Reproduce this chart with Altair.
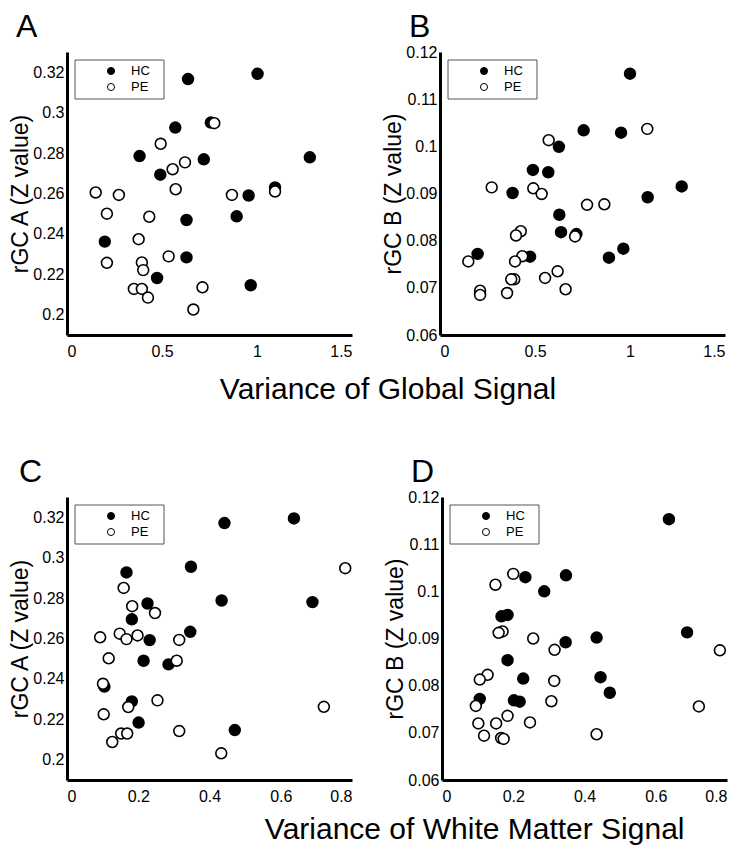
import altair as alt
import pandas as pd

GROUPS = ["HC", "PE"]

# Panel A: variance of global signal vs rGC A
A_HC_X = [0.637, 0.570, 0.757, 0.382, 0.720, 0.491, 0.956, 0.893, 0.629, 0.199, 0.629, 0.474, 0.967, 1.003, 1.278, 1.095]
A_HC_Y = [0.3166, 0.2926, 0.2951, 0.2785, 0.2769, 0.2693, 0.2590, 0.2487, 0.2469, 0.2362, 0.2284, 0.2182, 0.2146, 0.3192, 0.2779, 0.2630]
A_PE_X = [0.775, 0.493, 0.621, 0.556, 0.572, 0.151, 0.273, 0.868, 0.210, 0.433, 0.377, 0.210, 0.394, 0.401, 0.535, 0.352, 0.394, 0.426, 0.713, 0.665, 1.095]
A_PE_Y = [0.2948, 0.2846, 0.2754, 0.2720, 0.2621, 0.2605, 0.2593, 0.2593, 0.2500, 0.2485, 0.2374, 0.2257, 0.2259, 0.2221, 0.2289, 0.2128, 0.2128, 0.2085, 0.2136, 0.2026, 0.2610]

# Panel B: variance of global signal vs rGC B
B_HC_X = [0.756, 0.953, 0.626, 0.489, 0.570, 0.382, 0.628, 0.637, 0.718, 0.198, 0.474, 0.889, 0.965, 1.000, 1.272, 1.093]
B_HC_Y = [0.1034, 0.1029, 0.0999, 0.0950, 0.0945, 0.0901, 0.0855, 0.0818, 0.0814, 0.0772, 0.0766, 0.0764, 0.0783, 0.1154, 0.0915, 0.0892]
B_PE_X = [0.572, 0.272, 0.491, 0.535, 0.774, 0.865, 0.425, 0.400, 0.711, 0.433, 0.149, 0.395, 0.619, 0.553, 0.391, 0.375, 0.211, 0.211, 0.353, 0.661, 1.091]
B_PE_Y = [0.1013, 0.0913, 0.0911, 0.0899, 0.0876, 0.0877, 0.0820, 0.0811, 0.0809, 0.0767, 0.0756, 0.0756, 0.0735, 0.0721, 0.0718, 0.0718, 0.0694, 0.0685, 0.0689, 0.0697, 0.1037]

# Panel C: variance of white matter signal vs rGC A
C_HC_X = [0.442, 0.348, 0.167, 0.434, 0.226, 0.182, 0.346, 0.232, 0.215, 0.285, 0.182, 0.201, 0.471, 0.105, 0.637, 0.689]
C_HC_Y = [0.3171, 0.2955, 0.2927, 0.2788, 0.2773, 0.2695, 0.2633, 0.2592, 0.2490, 0.2472, 0.2289, 0.2184, 0.2147, 0.2362, 0.3194, 0.2780]
C_PE_X = [0.159, 0.183, 0.247, 0.093, 0.148, 0.167, 0.198, 0.315, 0.117, 0.308, 0.101, 0.254, 0.172, 0.103, 0.152, 0.169, 0.127, 0.315, 0.433, 0.781, 0.721]
C_PE_Y = [0.2850, 0.2760, 0.2726, 0.2606, 0.2624, 0.2597, 0.2615, 0.2593, 0.2502, 0.2490, 0.2376, 0.2294, 0.2261, 0.2225, 0.2130, 0.2130, 0.2088, 0.2142, 0.2032, 0.2948, 0.2262]

# Panel D: variance of white matter signal vs rGC B
D_HC_X = [0.348, 0.234, 0.287, 0.167, 0.184, 0.434, 0.347, 0.184, 0.228, 0.445, 0.471, 0.106, 0.202, 0.218, 0.637, 0.688]
D_HC_Y = [0.1034, 0.1030, 0.1000, 0.0947, 0.0950, 0.0902, 0.0892, 0.0854, 0.0815, 0.0818, 0.0785, 0.0772, 0.0769, 0.0766, 0.1153, 0.0913]
D_PE_X = [0.200, 0.150, 0.170, 0.159, 0.256, 0.316, 0.128, 0.106, 0.315, 0.307, 0.095, 0.184, 0.102, 0.152, 0.247, 0.118, 0.166, 0.173, 0.434, 0.780, 0.721]
D_PE_Y = [0.1037, 0.1014, 0.0915, 0.0912, 0.0900, 0.0876, 0.0823, 0.0813, 0.0810, 0.0767, 0.0757, 0.0736, 0.0720, 0.0720, 0.0722, 0.0694, 0.0689, 0.0687, 0.0697, 0.0875, 0.0756]

X_TICKS_GLOBAL = [0, 0.5, 1, 1.5]
X_TICKS_WM = [0, 0.2, 0.4, 0.6, 0.8]
Y_TICKS_A = [0.2, 0.22, 0.24, 0.26, 0.28, 0.3, 0.32]
Y_TICKS_B = [0.06, 0.07, 0.08, 0.09, 0.1, 0.11, 0.12]

FONT = "Liberation Sans"
W, H = 285, 283


def panel(hx, hy, px, py, xdom, xticks, ydom, yticks, ytitle, letter, letter_dx,
          letter_offset):
    df = pd.DataFrame({
        "x": hx + px,
        "y": hy + py,
        "group": [GROUPS[0]] * len(hx) + [GROUPS[1]] * len(px),
    })
    pts = alt.Chart(df).mark_point(filled=True, size=118, stroke="black",
                                   strokeWidth=1.6, opacity=1).encode(
        x=alt.X("x:Q", scale=alt.Scale(domain=xdom, nice=False, zero=False),
                axis=alt.Axis(values=xticks, format="~g", title=None, labelPadding=8)),
        y=alt.Y("y:Q", scale=alt.Scale(domain=ydom, nice=False, zero=False),
                axis=alt.Axis(values=yticks, format="~g", title=ytitle,
                              labelPadding=3, titlePadding=0, titleFontSize=23)),
        fill=alt.Fill("group:N", scale=alt.Scale(domain=GROUPS, range=["black", "white"]),
                      legend=None),
    )
    one = pd.DataFrame({"k": [0]})
    box = alt.Chart(one).mark_rect(fill="white", stroke="#555", strokeWidth=1).encode(
        x=alt.value(8), x2=alt.value(97), y=alt.value(8), y2=alt.value(47))
    s1 = alt.Chart(one).mark_point(filled=True, size=50, fill="black", stroke="black",
                                   strokeWidth=1, opacity=1).encode(
        x=alt.value(44), y=alt.value(19))
    s2 = alt.Chart(one).mark_point(filled=True, size=50, fill="white", stroke="black",
                                   strokeWidth=1, opacity=1).encode(
        x=alt.value(44), y=alt.value(35))
    t1 = alt.Chart(one).mark_text(align="left", baseline="middle", fontSize=13,
                                  font=FONT, color="black").encode(
        x=alt.value(64), y=alt.value(19), text=alt.value(GROUPS[0]))
    t2 = alt.Chart(one).mark_text(align="left", baseline="middle", fontSize=13,
                                  font=FONT, color="black").encode(
        x=alt.value(64), y=alt.value(35), text=alt.value(GROUPS[1]))
    return alt.layer(pts, box, s1, s2, t1, t2).properties(
        width=W, height=H,
        title=alt.TitleParams(letter, anchor="start", frame="group", dx=letter_dx,
                              fontSize=32, fontWeight="normal", font=FONT,
                              color="black", offset=letter_offset),
    )


pA = panel(A_HC_X, A_HC_Y, A_PE_X, A_PE_Y, [0, 1.5], X_TICKS_GLOBAL, [0.19, 0.33],
           Y_TICKS_A, "rGC A (Z value)", "A", -51, 8)
pB = panel(B_HC_X, B_HC_Y, B_PE_X, B_PE_Y, [0, 1.5], X_TICKS_GLOBAL, [0.06, 0.12],
           Y_TICKS_B, "rGC B (Z value)", "B", -31, 0)
pC = panel(C_HC_X, C_HC_Y, C_PE_X, C_PE_Y, [0, 0.8], X_TICKS_WM, [0.19, 0.33],
           Y_TICKS_A, "rGC A (Z value)", "C", -48, 8)
pD = panel(D_HC_X, D_HC_Y, D_PE_X, D_PE_Y, [0, 0.8], X_TICKS_WM, [0.06, 0.12],
           Y_TICKS_B, "rGC B (Z value)", "D", -31, 0)

row1 = alt.hconcat(pA, pB, spacing=30, title=alt.TitleParams(
    "Variance of Global Signal", orient="bottom", anchor="start", dx=210,
    fontSize=30, fontWeight="normal", font=FONT, color="black", offset=16))
row2 = alt.hconcat(pC, pD, spacing=30, title=alt.TitleParams(
    "Variance of White Matter Signal", orient="bottom", anchor="start", dx=255,
    fontSize=30, fontWeight="normal", font=FONT, color="black", offset=11))

chart = alt.vconcat(row1, row2, spacing=51).properties(
    padding={"top": 3, "left": 1, "right": 0, "bottom": 0}
).configure_view(
    strokeWidth=0
).configure_axis(
    domainColor="black", domainWidth=3, ticks=False, tickSize=0, grid=False,
    labelFont=FONT, labelFontSize=16, labelColor="black",
    titleFont=FONT, titleFontSize=23, titleFontWeight="normal", titleColor="black",
)

chart.save("out.html", embed_options={"renderer": "svg", "actions": False})
